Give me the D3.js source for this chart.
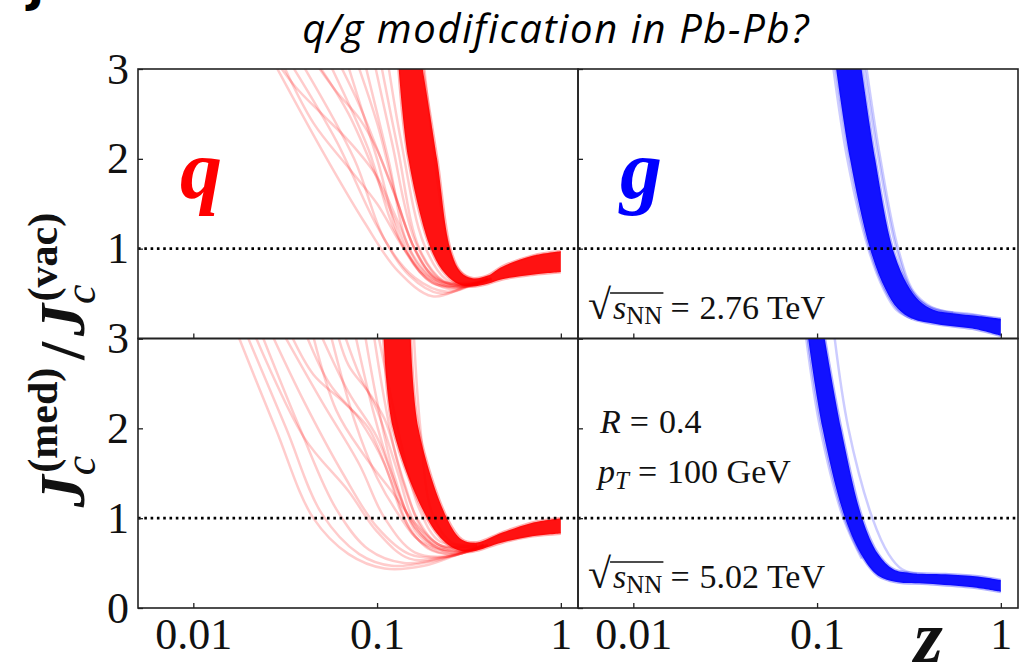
<!DOCTYPE html>
<html>
<head>
<meta charset="utf-8">
<script src="https://cdn.jsdelivr.net/npm/d3@7"></script>
<style>
  html, body { margin: 0; padding: 0; background: #fff; }
  svg { display: block; }
</style>
</head>
<body>
<svg id="chart" width="1025" height="664"></svg>
<script>
// axis values
const X_TICKS = [0.01, 0.1, 1];
const X_TICK_LABELS = ['0.01', '0.1', '1'];
const Y_TICKS = [0, 1, 2, 3];

// quark, sqrt(s) = 2.76 TeV : dense bundle edges + loose curves  [z, ratio]
const Q276_HI = [[0.174, 3.1], [0.212, 2], [0.25, 1], [0.285, 0.74], [0.33, 0.67], [0.4, 0.7], [0.48, 0.8], [0.7, 0.92], [1, 0.97]];
const Q276_LO = [[0.13, 3.1], [0.148, 2], [0.196, 1], [0.235, 0.72], [0.28, 0.6], [0.33, 0.58], [0.4, 0.61], [0.48, 0.66], [0.7, 0.71], [1, 0.74]];
const Q276_STRAYS = [
  [[0.027, 3.1], [0.05, 2.1], [0.085, 1.3], [0.13, 0.75], [0.2, 0.47], [0.3, 0.57], [0.42, 0.66]],
  [[0.028, 3.1], [0.036, 2.8], [0.05, 2.5], [0.07, 2.2], [0.1, 1.8], [0.13, 1.3], [0.17, 0.8], [0.24, 0.58], [0.4, 0.66]],
  [[0.03, 3.1], [0.045, 2.4], [0.07, 1.9], [0.1, 1.5], [0.14, 1.0], [0.2, 0.62], [0.3, 0.6], [0.42, 0.67]],
  [[0.033, 3.1], [0.06, 2.2], [0.1, 1.25], [0.15, 0.7], [0.22, 0.5], [0.32, 0.58], [0.42, 0.66]],
  [[0.038, 3.1], [0.075, 2.0], [0.11, 1.1], [0.16, 0.68], [0.24, 0.52], [0.33, 0.6], [0.42, 0.66]],
  [[0.045, 3.1], [0.06, 2.75], [0.08, 2.45], [0.1, 2.1], [0.125, 1.6], [0.16, 1.0], [0.22, 0.64], [0.4, 0.66]],
  [[0.046, 3.1], [0.07, 2.5], [0.12, 1.4], [0.17, 0.75], [0.25, 0.55], [0.33, 0.6], [0.42, 0.67]],
  [[0.054, 3.1], [0.09, 2.1], [0.125, 1.2], [0.18, 0.72], [0.26, 0.57], [0.34, 0.61], [0.42, 0.67]],
  [[0.061, 3.1], [0.08, 2.6], [0.105, 2.0], [0.13, 1.5], [0.16, 1.0], [0.21, 0.66], [0.3, 0.6], [0.42, 0.67]],
  [[0.068, 3.1], [0.1, 2.0], [0.14, 1.0], [0.2, 0.62], [0.28, 0.57], [0.4, 0.65]],
  [[0.077, 3.1], [0.1, 2.4], [0.14, 1.3], [0.19, 0.75], [0.28, 0.58], [0.4, 0.66]],
  [[0.085, 3.1], [0.115, 2.0], [0.15, 1.0], [0.21, 0.65], [0.3, 0.58], [0.4, 0.66]],
  [[0.096, 3.1], [0.12, 2.2], [0.16, 1.1], [0.22, 0.66], [0.3, 0.59], [0.4, 0.66]],
  [[0.104, 3.1], [0.13, 2.1], [0.17, 1.0], [0.23, 0.64], [0.31, 0.6], [0.4, 0.66]],
  [[0.114, 3.1], [0.135, 2.2], [0.18, 1.05], [0.24, 0.65], [0.32, 0.61], [0.4, 0.66]],
  [[0.179, 3.1], [0.2, 2.2], [0.235, 1.2], [0.27, 0.8], [0.33, 0.66], [0.4, 0.68]]
];

// quark, sqrt(s) = 5.02 TeV
const Q502_HI = [[0.152, 3.1], [0.168, 2], [0.24, 1], [0.29, 0.76], [0.35, 0.73], [0.48, 0.84], [0.7, 0.95], [1, 1.0]];
const Q502_LO = [[0.108, 3.1], [0.122, 2], [0.187, 1], [0.235, 0.73], [0.28, 0.64], [0.33, 0.63], [0.48, 0.73], [0.7, 0.8], [1, 0.83]];
const Q502_STRAYS = [
  [[0.017, 3.1], [0.028, 2], [0.045, 1.0], [0.07, 0.6], [0.11, 0.44], [0.18, 0.47], [0.28, 0.6], [0.4, 0.7]],
  [[0.019, 3.1], [0.032, 2], [0.05, 1.05], [0.08, 0.6], [0.12, 0.47], [0.2, 0.52], [0.3, 0.62], [0.4, 0.7]],
  [[0.021, 3.1], [0.04, 1.9], [0.07, 1.3], [0.1, 0.85], [0.15, 0.55], [0.25, 0.58], [0.4, 0.7]],
  [[0.023, 3.1], [0.038, 2], [0.06, 1.1], [0.09, 0.65], [0.14, 0.5], [0.22, 0.55], [0.35, 0.68]],
  [[0.026, 3.1], [0.04, 2.3], [0.065, 1.5], [0.1, 0.9], [0.15, 0.6], [0.24, 0.57], [0.38, 0.7]],
  [[0.03, 3.1], [0.05, 2.3], [0.08, 1.6], [0.11, 1.0], [0.16, 0.62], [0.25, 0.58], [0.38, 0.7]],
  [[0.033, 3.1], [0.045, 2.6], [0.065, 2.3], [0.09, 2.0], [0.12, 1.4], [0.16, 0.8], [0.24, 0.6], [0.38, 0.7]],
  [[0.04, 3.1], [0.055, 2.5], [0.08, 2.1], [0.11, 1.6], [0.14, 1.0], [0.19, 0.66], [0.27, 0.6], [0.4, 0.7]],
  [[0.044, 3.1], [0.06, 2.2], [0.085, 1.7], [0.12, 1.3], [0.16, 0.95], [0.22, 0.7], [0.35, 0.69]],
  [[0.048, 3.1], [0.07, 2.4], [0.1, 1.9], [0.13, 1.3], [0.17, 0.8], [0.25, 0.62], [0.38, 0.7]],
  [[0.055, 3.1], [0.075, 2.1], [0.1, 1.45], [0.13, 1.05], [0.17, 0.75], [0.26, 0.62], [0.38, 0.7]],
  [[0.06, 3.1], [0.07, 2.7], [0.09, 2.4], [0.11, 2.1], [0.14, 1.4], [0.18, 0.85], [0.26, 0.64], [0.38, 0.71]],
  [[0.065, 3.1], [0.08, 2.6], [0.1, 2.2], [0.13, 1.5], [0.16, 0.95], [0.22, 0.66], [0.35, 0.69]],
  [[0.075, 3.1], [0.095, 2.2], [0.12, 1.5], [0.15, 1.0], [0.2, 0.7], [0.28, 0.63], [0.4, 0.71]],
  [[0.085, 3.1], [0.1, 2.3], [0.125, 1.45], [0.16, 0.9], [0.22, 0.68], [0.35, 0.7]],
  [[0.095, 3.1], [0.11, 2.3], [0.13, 1.6], [0.165, 1.0], [0.22, 0.7], [0.35, 0.7]],
  [[0.1, 3.1], [0.115, 2.5], [0.14, 1.7], [0.17, 1.1], [0.22, 0.74], [0.35, 0.71]],
  [[0.158, 3.1], [0.172, 2], [0.2, 1.05], [0.26, 0.72], [0.34, 0.72]]
];

// gluon, sqrt(s) = 2.76 TeV
const G276_HI = [[0.172, 3.1], [0.207, 2], [0.258, 1], [0.31, 0.6], [0.36, 0.42], [0.43, 0.32], [0.55, 0.28], [0.75, 0.25], [1, 0.22]];
const G276_LO = [[0.125, 3.1], [0.151, 2], [0.194, 1], [0.235, 0.55], [0.275, 0.33], [0.33, 0.22], [0.45, 0.16], [0.7, 0.11], [1, 0.03]];
const G276_STRAYS = [
  [[0.178, 3.1], [0.216, 2], [0.27, 1], [0.33, 0.52], [0.4, 0.36], [0.5, 0.3], [0.7, 0.27], [1, 0.2]],
  [[0.183, 3.1], [0.221, 2], [0.276, 1], [0.336, 0.52], [0.42, 0.35], [0.55, 0.29]],
  [[0.121, 3.1], [0.146, 2], [0.19, 1], [0.23, 0.55], [0.27, 0.32], [0.33, 0.22]]
];

// gluon, sqrt(s) = 5.02 TeV
const G502_HI = [[0.108, 3.1], [0.135, 2], [0.176, 1], [0.215, 0.6], [0.26, 0.43], [0.32, 0.39], [0.5, 0.375], [0.75, 0.35], [1, 0.31]];
const G502_LO = [[0.088, 3.1], [0.107, 2], [0.142, 1], [0.178, 0.56], [0.215, 0.36], [0.27, 0.29], [0.4, 0.27], [0.7, 0.23], [1, 0.18]];
const G502_STRAYS = [
  [[0.123, 3.1], [0.148, 2], [0.2, 1], [0.245, 0.6], [0.29, 0.43], [0.35, 0.38]],
  [[0.086, 3.1], [0.104, 2], [0.139, 1], [0.175, 0.55]]
];

const svg = d3.select('#chart');
const SERIF = '"Liberation Serif", "DejaVu Serif", serif';

const xLeft = d3.scaleLog().domain([0.005, 1.24]).range([138, 578]);
const xRight = d3.scaleLog().domain([0.005, 1.24]).range([578, 1018]);
const yTop = d3.scaleLinear().domain([0, 3]).range([338.5, 69]);
const yBot = d3.scaleLinear().domain([0, 3]).range([608, 338.5]);

const panels = [
  { id: 'tl', x: xLeft, y: yTop, color: '#ff0000', hi: Q276_HI, lo: Q276_LO, strays: Q276_STRAYS, left: true, bottom: false },
  { id: 'bl', x: xLeft, y: yBot, color: '#ff0000', hi: Q502_HI, lo: Q502_LO, strays: Q502_STRAYS, left: true, bottom: true },
  { id: 'tr', x: xRight, y: yTop, color: '#0000ff', hi: G276_HI, lo: G276_LO, strays: G276_STRAYS, left: false, bottom: false },
  { id: 'br', x: xRight, y: yBot, color: '#0000ff', hi: G502_HI, lo: G502_LO, strays: G502_STRAYS, left: false, bottom: true }
];

const defs = svg.append('defs');

panels.forEach(p => {
  const [x0, x1] = p.x.range();
  const [y1, y0] = p.y.range();
  defs.append('clipPath').attr('id', 'clip-' + p.id)
    .append('rect').attr('x', x0).attr('y', y0).attr('width', x1 - x0).attr('height', y1 - y0);

  const g = svg.append('g').attr('clip-path', `url(#clip-${p.id})`);
  const line = d3.line()
      .x(d => p.x(d[0]))
      .y(d => p.y(d[1]))
      .curve(d3.curveCatmullRom.alpha(0.5));

  // loose curves
  g.selectAll('path.stray')
    .data(p.strays)
    .enter().append('path')
      .attr('class', 'stray')
      .attr('d', line)
      .attr('fill', 'none')
      .attr('stroke', p.color)
      .attr('stroke-opacity', 0.2)
      .attr('stroke-width', 2.5);

  // dense bundle
  const bandPath = line(p.hi) + line(p.lo.slice().reverse()).replace(/^M/, 'L') + 'Z';
  g.append('path')
      .attr('d', bandPath)
      .attr('fill', p.color)
      .attr('fill-opacity', 0.93);
  g.selectAll('path.edge')
    .data([p.hi, p.lo])
    .enter().append('path')
      .attr('class', 'edge')
      .attr('d', line)
      .attr('fill', 'none')
      .attr('stroke', p.color)
      .attr('stroke-opacity', 0.3)
      .attr('stroke-width', 3);

  // reference line at 1
  svg.append('line')
      .attr('x1', x0).attr('x2', x1)
      .attr('y1', p.y(1)).attr('y2', p.y(1))
      .attr('stroke', '#000')
      .attr('stroke-width', 2.6)
      .attr('stroke-dasharray', '2.6,3.7');

  // axes
  const yAxis = d3.axisLeft(p.y)
      .tickValues(Y_TICKS)
      .tickSizeInner(-5)
      .tickSizeOuter(0)
      .tickPadding(9)
      .tickFormat(d => (p.left && (p.bottom || d !== 0)) ? d : '');
  const ya = svg.append('g')
      .attr('transform', `translate(${x0},0)`)
      .call(yAxis);
  ya.select('.domain').remove();

  const xAxis = d3.axisBottom(p.x)
      .tickValues(X_TICKS)
      .tickSizeInner(-5)
      .tickSizeOuter(0)
      .tickPadding(10)
      .tickFormat((d, i) => p.bottom ? X_TICK_LABELS[i] : '');
  const xa = svg.append('g')
      .attr('transform', `translate(0,${y1})`)
      .call(xAxis);
  xa.select('.domain').remove();

  [ya, xa].forEach(a => {
    a.selectAll('line').attr('stroke', '#222').attr('stroke-width', 1.3);
    a.selectAll('text').attr('font-family', SERIF).attr('font-size', 44).attr('fill', '#111');
  });

  // frame
  svg.append('rect')
      .attr('x', x0).attr('y', y0)
      .attr('width', x1 - x0).attr('height', y1 - y0)
      .attr('fill', 'none')
      .attr('stroke', '#222')
      .attr('stroke-width', 1.6);
});

// parton labels
svg.append('text')
    .attr('x', 180).attr('y', 198)
    .attr('font-family', SERIF).attr('font-size', 84)
    .attr('font-style', 'italic').attr('font-weight', 'bold')
    .attr('fill', '#ff0000')
    .text('q');
svg.append('text')
    .attr('x', 620).attr('y', 198)
    .attr('font-family', SERIF).attr('font-size', 84)
    .attr('font-style', 'italic').attr('font-weight', 'bold')
    .attr('fill', '#0000ff')
    .text('g');

// sqrt(s_NN) labels
function sqrtLabel(x, y, value) {
  const t = svg.append('text')
      .attr('x', x).attr('y', y)
      .attr('font-family', SERIF).attr('font-size', 34).attr('fill', '#111');
  t.append('tspan').attr('font-size', 42).text('\u221A');
  t.append('tspan').attr('font-style', 'italic').attr('dx', 2).text('s');
  t.append('tspan').attr('font-size', 25).attr('dy', 5).text('NN');
  t.append('tspan').attr('dy', -5).attr('dx', 8).text('=');
  t.append('tspan').attr('dx', 10).text(`${value} TeV`);
  const node = t.node();
  const xa = node.getEndPositionOfChar(0).x;
  const xb = node.getEndPositionOfChar(3).x;
  svg.append('line')
      .attr('x1', xa - 1).attr('x2', xb + 1)
      .attr('y1', y - 26).attr('y2', y - 26)
      .attr('stroke', '#111').attr('stroke-width', 1.6);
}
sqrtLabel(588, 319, '2.76');
sqrtLabel(588, 588, '5.02');

const rText = svg.append('text')
    .attr('x', 600).attr('y', 433)
    .attr('font-family', SERIF).attr('font-size', 34).attr('fill', '#111');
rText.append('tspan').attr('font-style', 'italic').text('R');
rText.append('tspan').attr('dx', 9).text('=');
rText.append('tspan').attr('dx', 10).text('0.4');

const pText = svg.append('text')
    .attr('x', 598).attr('y', 483)
    .attr('font-family', SERIF).attr('font-size', 34).attr('fill', '#111');
pText.append('tspan').attr('font-style', 'italic').text('p');
pText.append('tspan').attr('font-style', 'italic').attr('font-size', 25).attr('dy', 6).text('T');
pText.append('tspan').attr('dy', -6).attr('dx', 9).text('=');
pText.append('tspan').attr('dx', 10).text('100 GeV');

// y-axis title
const yTitle = svg.append('text')
    .attr('transform', 'translate(84,360) rotate(-90)')
    .attr('text-anchor', 'middle')
    .attr('font-family', SERIF).attr('fill', '#111');
yTitle.append('tspan').attr('font-size', 64).attr('font-weight', 'bold').attr('font-style', 'italic').text('J');
yTitle.append('tspan').attr('font-size', 44).attr('font-style', 'italic').attr('dy', 11).text('c');
yTitle.append('tspan').attr('font-size', 42).attr('font-weight', 'bold').attr('dx', -17).attr('dy', -38).text('(med)');
yTitle.append('tspan').attr('font-size', 64).attr('font-weight', 'bold').attr('dx', 8).attr('dy', 27).text('/');
yTitle.append('tspan').attr('font-size', 64).attr('font-weight', 'bold').attr('font-style', 'italic').attr('dx', 6).text('J');
yTitle.append('tspan').attr('font-size', 44).attr('font-style', 'italic').attr('dy', 11).text('c');
yTitle.append('tspan').attr('font-size', 42).attr('font-weight', 'bold').attr('dx', -17).attr('dy', -38).text('(vac)');

// x-axis title
svg.append('text')
    .attr('x', 914).attr('y', 662)
    .attr('font-family', SERIF).attr('font-size', 74)
    .attr('font-style', 'italic').attr('font-weight', 'bold')
    .attr('fill', '#111')
    .text('z');

// title
svg.append('text')
    .attr('x', 556).attr('y', 43)
    .attr('text-anchor', 'middle')
    .attr('font-family', '"Open Sans", sans-serif').attr('font-size', 40)
    .attr('letter-spacing', 1.6)
    .attr('font-style', 'italic')
    .attr('fill', '#000')
    .text('q/g modification in Pb-Pb?');

// clipped panel letter at the corner
svg.append('text')
    .attr('x', 28).attr('y', 2)
    .attr('font-family', '"DejaVu Sans", sans-serif').attr('font-size', 44)
    .attr('font-weight', 'bold').attr('fill', '#000')
    .text('J');
</script>
</body>
</html>
